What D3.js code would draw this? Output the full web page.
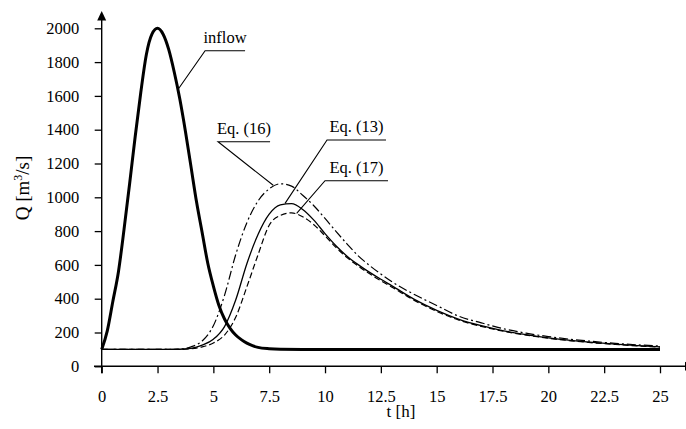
<!DOCTYPE html>
<html>
<head>
<meta charset="utf-8">
<script src="https://cdn.jsdelivr.net/npm/d3@7"></script>
<style>
  html, body { margin: 0; padding: 0; background: #fff; }
  svg { display: block; }
  svg text { font-family: "Liberation Serif", "DejaVu Serif", serif !important; fill: #000; }
</style>
</head>
<body>
<svg id="chart" width="686" height="429"></svg>
<script>
// ---- data ----
const tInflow = [0, 0.25, 0.5, 0.75, 1, 1.25, 1.5, 1.75, 2, 2.25, 2.5, 2.75, 3, 3.25, 3.5, 3.75, 4, 4.25, 4.5, 4.75, 5, 5.25, 5.5, 5.75, 6, 6.25, 6.5, 6.75, 7, 7.5, 8, 9, 10, 12, 15, 20, 25];
const qInflow = [100, 210, 385, 560, 810, 1080, 1360, 1620, 1845, 1965, 2000, 1965, 1875, 1740, 1580, 1390, 1180, 970, 790, 610, 475, 360, 280, 225, 185, 158, 137, 122, 112, 104, 101, 100, 100, 100, 100, 100, 100];

const tRouted = [0, 3, 3.5, 4, 4.5, 5, 5.5, 6, 6.5, 7, 7.5, 8, 8.5, 9, 9.5, 10, 10.5, 11, 11.5, 12, 12.5, 13, 14, 15, 16, 17, 18, 19, 20, 21, 22, 23, 24, 25];
const qEq13 = [100, 100, 101, 106, 125, 160, 235, 392, 607, 780, 900, 955, 962, 928, 865, 785, 712, 650, 600, 556, 515, 476, 396, 331, 278, 240, 210, 187, 168, 153, 141, 131, 122, 115];
const qEq16 = [100, 100, 102, 115, 150, 240, 420, 660, 850, 978, 1050, 1080, 1066, 1012, 950, 875, 797, 722, 652, 596, 546, 500, 425, 360, 296, 257, 222, 196, 176, 160, 147, 136, 127, 120];
const qEq17 = [100, 100, 100, 104, 115, 138, 185, 290, 470, 660, 835, 893, 908, 885, 838, 772, 702, 642, 592, 547, 506, 468, 390, 325, 273, 236, 207, 185, 166, 151, 139, 129, 120, 114];

const xTicks = [0, 2.5, 5, 7.5, 10, 12.5, 15, 17.5, 20, 22.5, 25];
const yTicks = [0, 200, 400, 600, 800, 1000, 1200, 1400, 1600, 1800, 2000];

// annotation labels: underline start/end (t), underline level (Q), target point on curve (t, Q)
const labelText = ["inflow", "Eq. (16)", "Eq. (13)", "Eq. (17)"];
const labelT0 = [4.63, 5.21, 10.09, 10.0];
const labelT1 = [6.42, 7.54, 12.73, 12.82];
const labelQ = [1867, 1329, 1339, 1098];
const targetT = [3.40, 7.68, 8.21, 8.73];
const targetQ = [1635, 1071, 964, 905];

// ---- layout ----
const FONT = "'Liberation Serif', 'DejaVu Serif', serif";
const svg = d3.select("#chart");
const x = d3.scaleLinear().domain([0, 25]).range([101.7, 660]);
const y = d3.scaleLinear().domain([0, 2000]).range([366.3, 28.3]);
const fs = 16.5;

// axes
const xAxis = d3.axisBottom(x).tickValues(xTicks).tickSize(7).tickPadding(17)
  .tickFormat(d => String(d));
const yAxis = d3.axisLeft(y).tickValues(yTicks).tickSize(7).tickPadding(15.5)
  .tickFormat(d => String(d));

const gx = svg.append("g").attr("transform", `translate(0,${y(0)})`).call(xAxis);
const gy = svg.append("g").attr("transform", `translate(${x(0)},0)`).call(yAxis);
[gx, gy].forEach(g => {
  g.attr("font-family", FONT).attr("font-size", fs);
  g.select(".domain").remove();
  g.selectAll(".tick line").attr("stroke", "#000").attr("stroke-width", 1.3);
  g.selectAll(".tick text").attr("fill", "#000");
});

// axis lines with arrows
svg.append("line").attr("x1", 94).attr("x2", 686).attr("y1", y(0)).attr("y2", y(0))
  .attr("stroke", "#000").attr("stroke-width", 1.4);
svg.append("line").attr("x1", x(0)).attr("x2", x(0)).attr("y1", y(0) + 7).attr("y2", 18)
  .attr("stroke", "#000").attr("stroke-width", 1.4);
svg.append("path").attr("d", `M${x(0)},11 L${x(0) - 4.5},20.5 L${x(0) + 4.5},20.5 Z`).attr("fill", "#000");
svg.append("path").attr("d", `M685,${y(0) - 4.5} L694,${y(0)} L685,${y(0) + 4.5} Z`).attr("fill", "#000");

// axis titles
svg.append("text").attr("x", 401).attr("y", 417).attr("text-anchor", "middle")
  .attr("font-family", FONT).attr("font-size", 17).text("t [h]");
const yl = svg.append("text").attr("transform", "translate(29,188) rotate(-90)")
  .attr("text-anchor", "middle").attr("font-family", FONT).attr("font-size", 19);
yl.append("tspan").text("Q [m");
yl.append("tspan").attr("dy", -7).attr("font-size", 12).text("3");
yl.append("tspan").attr("dy", 7).text("/s]");

// series
const line = (ts, qs) => d3.line().x((d, i) => x(ts[i])).y(d => y(d)).curve(d3.curveMonotoneX)(qs);

svg.append("path").attr("d", line(tRouted, qEq16)).attr("fill", "none")
  .attr("stroke", "#000").attr("stroke-width", 1.2).attr("stroke-dasharray", "9,3,2,3");
svg.append("path").attr("d", line(tRouted, qEq17)).attr("fill", "none")
  .attr("stroke", "#000").attr("stroke-width", 1.2).attr("stroke-dasharray", "6,3");
svg.append("path").attr("d", line(tRouted, qEq13)).attr("fill", "none")
  .attr("stroke", "#000").attr("stroke-width", 1.3);
svg.append("path").attr("d", line(tInflow, qInflow)).attr("fill", "none")
  .attr("stroke", "#000").attr("stroke-width", 3).attr("stroke-linejoin", "round");

// annotations
labelText.forEach((txt, i) => {
  const ux0 = x(labelT0[i]), ux1 = x(labelT1[i]), uy = y(labelQ[i]);
  svg.append("path")
    .attr("d", `M${ux1},${uy} L${ux0},${uy} L${x(targetT[i])},${y(targetQ[i])}`)
    .attr("fill", "none").attr("stroke", "#000").attr("stroke-width", 1.1);
  svg.append("text").attr("x", (ux0 + ux1) / 2).attr("y", uy - 8)
    .attr("text-anchor", "middle").attr("font-family", FONT).attr("font-size", 16.5).text(txt);
});
</script>
</body>
</html>
